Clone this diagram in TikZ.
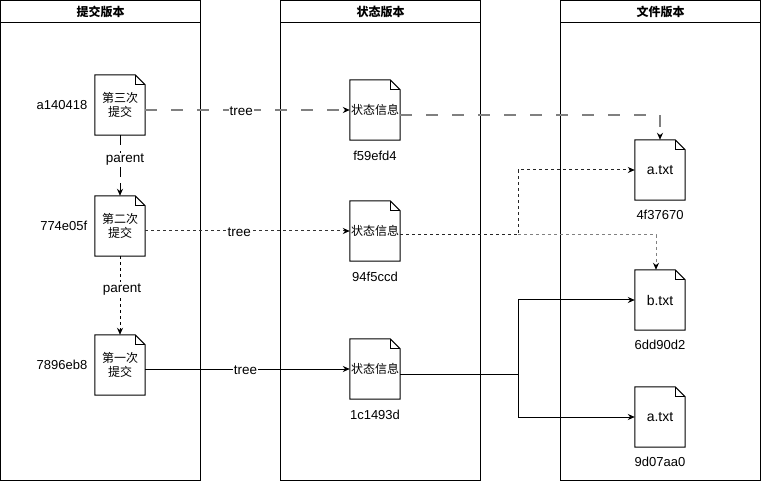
\documentclass[tikz,border=0pt]{standalone}
\usepackage{fontspec}
\setmainfont{Liberation Sans}
\newfontfamily\cjk{Noto Sans CJK SC}
\usetikzlibrary{arrows.meta,positioning}

\begin{document}
\begin{tikzpicture}[x=1pt, y=-1pt,
  lane/.style={draw, line width=1pt},
  lanetitle/.style={font=\cjk\bfseries\fontsize{12}{14}\selectfont},
  docbox/.style={minimum width=50pt, minimum height=60pt, inner sep=0pt, align=center},
  commit/.style={docbox, font=\cjk\fontsize{12}{14}\selectfont},
  state/.style={docbox, font=\cjk\fontsize{12}{14}\selectfont},
  blob/.style={docbox, font=\fontsize{14}{16}\selectfont},
  hash/.style={font=\fontsize{13}{15}\selectfont},
  tip/.style={-{Stealth[length=7pt, width=6pt, black]}},
  longdash/.style={tip, gray, line width=1.5pt, dash pattern=on 12pt off 14pt},
  shortdash/.style={tip, line width=1pt, dash pattern=on 3pt off 3pt},
  plain/.style={tip, line width=1pt},
  edgelabel/.style={font=\fontsize{13.5}{15}\selectfont, text=black, fill=white,
    inner sep=1pt, yshift=-1.5pt}
]
  \useasboundingbox (0,0) rectangle (761,481);

  % Lanes
  \foreach \x/\title in {0/提交版本, 280/状态版本, 560/文件版本} {
    \draw[lane] (\x+0.5,0.5) rectangle (\x+200.5,480.5);
    \draw[lane] (\x+0.5,23) -- (\x+200.5,23);
    \node[lanetitle] at (\x+100.5,11.5) {\title};
  }

  % Commits
  \node[commit] (c3) at (120,105) {第三次\\提交};
  \node[commit] (c2) at (120,226) {第二次\\提交};
  \node[commit] (c1) at (120,365) {第一次\\提交};
  \node[hash, left=4pt of c3] (h3) {a140418};
  \node[hash, left=4pt of c2] (h2) {774e05f};
  \node[hash, left=4pt of c1] (h1) {7896eb8};

  % States
  \node[state] (s3) at (375,110) {状态信息};
  \node[state] (s2) at (375,231) {状态信息};
  \node[state] (s1) at (375,369) {状态信息};
  \node[hash, below=7pt of s3] (hs3) {f59efd4};
  \node[hash, below=7pt of s2] (hs2) {94f5ccd};
  \node[hash, below=7pt of s1] (hs1) {1c1493d};

  % Files
  \node[blob] (fa) at (660,170) {a.txt};
  \node[blob] (fb) at (660,300) {b.txt};
  \node[blob] (fa2) at (660,417) {a.txt};
  \node[hash, below=6pt of fa] (hfa) {4f37670};
  \node[hash, below=6pt of fb] (hfb) {6dd90d2};
  \node[hash, below=6pt of fa2] (hfa2) {9d07aa0};

  % Folded page outlines
  \foreach \n in {c3,c2,c1,s3,s2,s1,fa,fb,fa2} {
    \draw[line width=1pt] (\n.south west) -- (\n.north west)
      -- ([xshift=-10pt]\n.north east) -- ([yshift=-10pt]\n.north east)
      -- (\n.south east) -- cycle;
    \draw[line width=1pt] ([xshift=-10pt]\n.north east) |- ([yshift=-10pt]\n.north east);
  }

  % Parent links
  \draw[tip, line width=1pt, dash pattern=on 10pt off 6pt] (c3.south) --
    node[edgelabel, pos=0.38, xshift=5pt] {parent} (c2.north);
  \draw[shortdash] (c2.south) --
    node[edgelabel, pos=0.4, xshift=2pt] {parent} (c1.north);

  % Tree links
  \draw[longdash] (c3.east |- s3.west) -- node[edgelabel, pos=0.47] {tree} (s3.west);
  \draw[shortdash, black!80] (c2.east |- s2.west) -- node[edgelabel, pos=0.46] {tree} (s2.west);
  \draw[plain] (c1.east |- s1.west) -- node[edgelabel, pos=0.49] {tree} (s1.west);

  % State to files
  \coordinate (j2) at (518,235);
  \coordinate (j1) at (518,374);
  \draw[longdash] ([yshift=-5pt]s3.east) -| (fa.north);
  \draw[shortdash, black!85] ([yshift=-4pt]s2.east) -- (j2) |- (fa.west);
  \draw[shortdash, gray] (j2) -| ([xshift=-4pt]fb.north);
  \draw[plain] ([yshift=-5pt]s1.east) -- (j1) |- (fb.west);
  \draw[plain] (j1) |- (fa2.west);
\end{tikzpicture}
\end{document}
